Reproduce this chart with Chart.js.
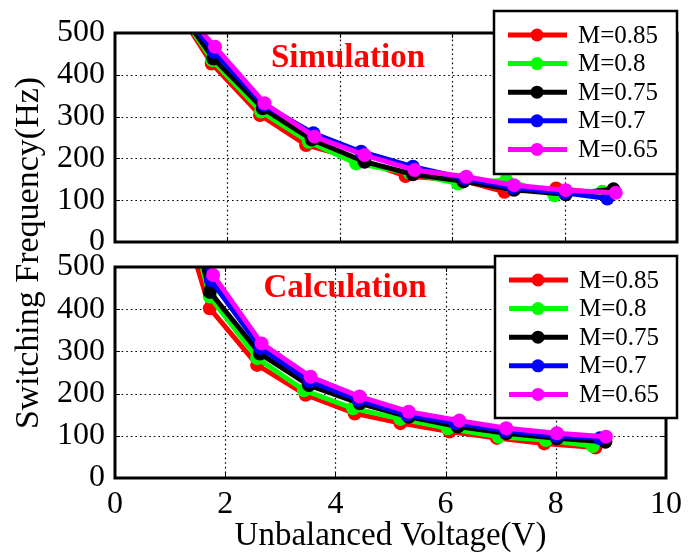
<!DOCTYPE html>
<html>
<head>
<meta charset="utf-8">
<script src="https://cdn.jsdelivr.net/npm/chart.js@4.4.1/dist/chart.umd.min.js"></script>
<style>
  html, body { margin: 0; padding: 0; background: #ffffff; }
  #wrap { position: relative; width: 689px; height: 560px; }
  #wrap canvas { position: absolute; left: 0; top: 0; }
</style>
</head>
<body>
<div id="wrap">
  <canvas id="simChart" width="689" height="560"></canvas>
  <canvas id="calcChart" width="689" height="560"></canvas>
</div>
<script>
// Series names and colours
const mLabels = ['M=0.85', 'M=0.8', 'M=0.75', 'M=0.7', 'M=0.65'];
const seriesColors = ['#ff0000', '#00ff00', '#000000', '#0000ff', '#ff00ff'];

// Axis ticks
const xTicks = [0, 2, 4, 6, 8, 10];
const yTicks = [0, 100, 200, 300, 400, 500];

// Simulation: unbalanced voltage (V) and switching frequency (Hz)
const simV085 = [0.90, 1.72, 2.58, 3.40, 4.40, 5.17, 6.16, 6.93, 7.85, 8.80];
const simF085 = [600, 427, 304, 232, 195, 158, 148, 120, 128, 115];
const simV080 = [0.90, 1.73, 2.60, 3.45, 4.29, 5.25, 6.10, 6.96, 7.82, 8.67];
const simF080 = [600, 435, 312, 240, 188, 165, 140, 148, 112, 120];
const simV075 = [0.90, 1.75, 2.63, 3.50, 4.44, 5.30, 6.20, 7.10, 8.02, 8.87];
const simF075 = [600, 439, 320, 245, 192, 162, 145, 125, 114, 126];
const simV070 = [0.90, 1.76, 2.65, 3.53, 4.38, 5.30, 6.22, 7.08, 8.00, 8.76];
const simF070 = [600, 455, 328, 260, 216, 180, 152, 130, 118, 104];
const simV065 = [0.90, 1.78, 2.66, 3.55, 4.44, 5.33, 6.25, 7.10, 8.02, 8.91];
const simF065 = [600, 467, 332, 252, 208, 172, 156, 136, 124, 118];

// Calculation: unbalanced voltage (V) and switching frequency (Hz)
const calcV085 = [0.85, 1.72, 2.58, 3.46, 4.35, 5.18, 6.07, 6.93, 7.79, 8.72];
const calcF085 = [780, 402, 268, 197, 153, 130, 110, 95, 82, 72];
const calcV080 = [0.87, 1.72, 2.58, 3.43, 4.32, 5.18, 6.04, 6.96, 7.82, 8.67];
const calcF080 = [850, 430, 284, 208, 165, 140, 118, 98, 90, 76];
const calcV075 = [0.88, 1.72, 2.63, 3.52, 4.44, 5.33, 6.22, 7.10, 8.02, 8.90];
const calcF075 = [880, 441, 295, 220, 177, 145, 122, 106, 94, 86];
const calcV070 = [0.89, 1.74, 2.64, 3.53, 4.42, 5.30, 6.18, 7.08, 8.00, 8.80];
const calcF070 = [920, 469, 308, 229, 185, 150, 130, 112, 100, 94];
const calcV065 = [0.90, 1.78, 2.66, 3.55, 4.44, 5.33, 6.25, 7.10, 8.02, 8.91];
const calcF065 = [950, 481, 319, 240, 193, 157, 136, 118, 106, 98];

const SERIF = "'Liberation Serif', 'Times New Roman', serif";

function toPoints(xs, ys) {
  return xs.map((x, k) => ({ x: x, y: ys[k] }));
}

function buildDatasets(pairs) {
  return pairs.map((p, i) => ({
    label: mLabels[i],
    data: toPoints(p[0], p[1]),
    borderColor: seriesColors[i],
    backgroundColor: seriesColors[i],
    pointBackgroundColor: seriesColors[i],
    pointBorderColor: seriesColors[i],
    borderWidth: 5,
    pointRadius: 7,
    pointBorderWidth: 0,
    tension: 0,
    fill: false,
    clip: 0,
    order: mLabels.length - i
  }));
}

// Dotted grid at the inner ticks, placed with the chart's own scales
const dottedGrid = {
  id: 'dottedGrid',
  beforeDatasetsDraw(chart) {
    const { ctx, chartArea: a, scales } = chart;
    ctx.save();
    ctx.globalAlpha = 1;
    ctx.globalCompositeOperation = 'source-over';
    ctx.strokeStyle = '#000000';
    ctx.lineWidth = 1.2;
    ctx.setLineDash([1.6, 3]);
    xTicks.slice(1, -1).forEach(v => {
      const px = Math.round(scales.x.getPixelForValue(v)) + 0.5;
      ctx.beginPath();
      ctx.moveTo(px, a.top + 2);
      ctx.lineTo(px, a.bottom - 2);
      ctx.stroke();
    });
    yTicks.slice(1, -1).forEach(v => {
      const py = Math.round(scales.y.getPixelForValue(v)) + 0.5;
      ctx.beginPath();
      ctx.moveTo(a.left + 2, py);
      ctx.lineTo(a.right - 2, py);
      ctx.stroke();
    });
    ctx.restore();
  }
};

// Frame with inward ticks, in-plot heading, boxed legend and the shared vertical axis title
const panelDecor = {
  id: 'panelDecor',
  afterDatasetsDraw(chart, args, opts) {
    const { ctx, chartArea: a, scales } = chart;
    ctx.save();
    ctx.setLineDash([]);

    ctx.lineWidth = 3;
    ctx.strokeStyle = '#000';
    ctx.strokeRect(a.left, a.top, a.right - a.left, a.bottom - a.top);

    ctx.lineWidth = 1;
    ctx.beginPath();
    xTicks.slice(1, -1).forEach(v => {
      const px = Math.round(scales.x.getPixelForValue(v)) + 0.5;
      ctx.moveTo(px, a.bottom); ctx.lineTo(px, a.bottom - 5);
      ctx.moveTo(px, a.top); ctx.lineTo(px, a.top + 5);
    });
    yTicks.slice(1, -1).forEach(v => {
      const py = Math.round(scales.y.getPixelForValue(v)) + 0.5;
      ctx.moveTo(a.left, py); ctx.lineTo(a.left + 5, py);
      ctx.moveTo(a.right, py); ctx.lineTo(a.right - 5, py);
    });
    ctx.stroke();

    ctx.font = 'bold 33px ' + SERIF;
    ctx.fillStyle = '#ff0000';
    ctx.textAlign = 'center';
    ctx.textBaseline = 'middle';
    ctx.fillText(opts.title, opts.titleX, opts.titleY);

    const [lx, ly, lw, lh] = opts.legendBox;
    ctx.fillStyle = '#ffffff';
    ctx.fillRect(lx, ly, lw, lh);
    ctx.lineWidth = 2.5;
    ctx.strokeStyle = '#000';
    ctx.strokeRect(lx, ly, lw, lh);

    ctx.font = '25px ' + SERIF;
    ctx.textAlign = 'left';
    chart.data.datasets.forEach((ds, i) => {
      const y = ly + 24 + i * 28.6;
      ctx.strokeStyle = ds.borderColor;
      ctx.lineWidth = 5;
      ctx.beginPath();
      ctx.moveTo(lx + 14, y);
      ctx.lineTo(lx + 73, y);
      ctx.stroke();
      ctx.fillStyle = ds.borderColor;
      ctx.beginPath();
      ctx.arc(lx + 43, y, 6.5, 0, Math.PI * 2);
      ctx.fill();
      ctx.fillStyle = '#000';
      ctx.fillText(ds.label, lx + 84, y + 1);
    });

    if (opts.yTitle) {
      ctx.translate(29, 253);
      ctx.rotate(-Math.PI / 2);
      ctx.font = '34px ' + SERIF;
      ctx.fillStyle = '#000';
      ctx.textAlign = 'center';
      ctx.textBaseline = 'middle';
      ctx.fillText(opts.yTitle, 0, 0);
    }
    ctx.restore();
  }
};

function makeOptions(cfg) {
  return {
    responsive: false,
    animation: false,
    devicePixelRatio: 1,
    layout: { padding: cfg.padding },
    scales: {
      x: {
        type: 'linear',
        min: 0,
        max: 10,
        afterBuildTicks: (s) => { s.ticks = xTicks.map(v => ({ value: v })); },
        afterFit: (s) => { s.height = cfg.xHeight; },
        grid: { display: false, drawTicks: false },
        border: { display: false },
        ticks: {
          display: cfg.showXTicks,
          padding: 7,
          color: '#000',
          font: { family: SERIF, size: 32 }
        },
        title: {
          display: cfg.showXTicks,
          text: 'Unbalanced Voltage(V)',
          color: '#000',
          font: { family: SERIF, size: 33 },
          padding: { top: 0, bottom: 4 }
        }
      },
      y: {
        type: 'linear',
        min: 0,
        max: 500,
        afterBuildTicks: (s) => { s.ticks = yTicks.map(v => ({ value: v })); },
        afterFit: (s) => { s.width = 115; },
        grid: { display: false, drawTicks: false },
        border: { display: false },
        ticks: {
          padding: 10,
          color: '#000',
          font: { family: SERIF, size: 32 }
        }
      }
    },
    plugins: {
      legend: { display: false },
      tooltip: { enabled: false },
      panelDecor: cfg.decor
    }
  };
}

new Chart(document.getElementById('simChart'), {
  type: 'line',
  data: {
    datasets: buildDatasets([
      [simV085, simF085], [simV080, simF080], [simV075, simF075],
      [simV070, simF070], [simV065, simF065]
    ])
  },
  options: makeOptions({
    padding: { left: 0, right: 12, top: 33, bottom: 318 },
    xHeight: 0,
    showXTicks: false,
    decor: {
      title: 'Simulation', titleX: 348, titleY: 58,
      legendBox: [494, 11, 183, 163],
      yTitle: 'Switching Frequency(Hz)'
    }
  }),
  plugins: [dottedGrid, panelDecor]
});

new Chart(document.getElementById('calcChart'), {
  type: 'line',
  data: {
    datasets: buildDatasets([
      [calcV085, calcF085], [calcV080, calcF080], [calcV075, calcF075],
      [calcV070, calcF070], [calcV065, calcF065]
    ])
  },
  options: makeOptions({
    padding: { left: 0, right: 12, top: 267, bottom: 0 },
    xHeight: 82,
    showXTicks: true,
    decor: {
      title: 'Calculation', titleX: 345, titleY: 288,
      legendBox: [495, 256, 182, 162],
      yTitle: null
    }
  }),
  plugins: [dottedGrid, panelDecor]
});
</script>
</body>
</html>
